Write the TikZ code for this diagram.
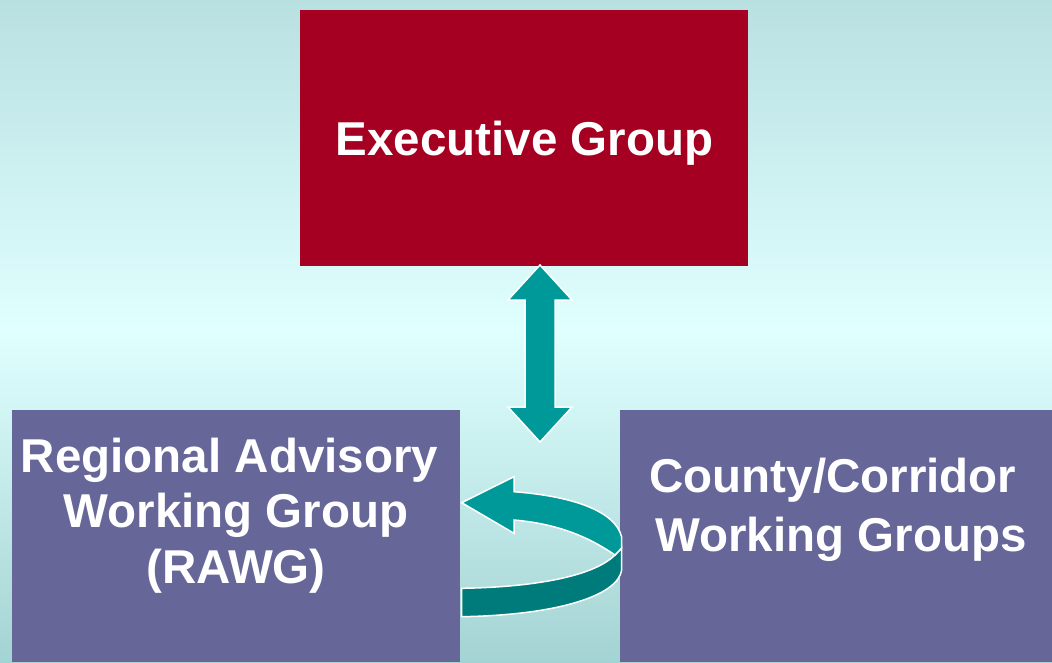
\documentclass[tikz,border=0pt]{standalone}
\usepackage{fontspec}
\setmainfont{Liberation Sans}
\definecolor{bgtop}{HTML}{B9E0E1}
\definecolor{bgmid}{HTML}{E0FFFF}
\definecolor{bgbot}{HTML}{A4D3D3}
\definecolor{execred}{HTML}{A50021}
\definecolor{boxpurple}{HTML}{666699}
\definecolor{teal1}{HTML}{009999}
\definecolor{teal2}{HTML}{007B7B}
\tikzset{
  box/.style={fill=#1, draw=none, inner sep=0pt, anchor=north west},
  lbl/.style={text=white, font=\fontsize{47.5}{57.5}\selectfont\bfseries, inner sep=0pt, anchor=base},
  blockarrow/.style={fill=#1, draw=white, line width=1.5pt, line join=miter}
}
\begin{document}
\begin{tikzpicture}[x=1pt, y=-1pt]
\useasboundingbox (0,0) rectangle (1052,662);
% background gradient
\shade[top color=bgtop, bottom color=bgmid] (0,0) rectangle (1052,330);
\shade[top color=bgmid, bottom color=bgbot] (0,330) rectangle (1052,662);
% boxes
\node[box=execred, minimum width=448pt, minimum height=256pt] (exec) at (300,10) {};
\node[box=boxpurple, minimum width=448pt, minimum height=252pt] (rawg) at (12,410) {};
\node[box=boxpurple, minimum width=432pt, minimum height=252pt] (county) at (620,410) {};
% labels
\node[lbl] (execlbl) at (524.5,155) {Executive Group};
\node[lbl] (rawgA) at (229.5,472) {Regional Advisory};
\node[lbl] (rawgB) at (236,527.5) {Working Group};
\node[lbl] (rawgC) at (236,583) {(RAWG)};
\node[lbl] (countyA) at (833,492) {County/Corridor};
\node[lbl] (countyB) at (841,551) {Working Groups};
% double block arrow between exec and the lower boxes
\coordinate (dtop) at (540,265);
\coordinate (dbot) at (540,442);
\draw[blockarrow=teal1] (dtop) -- ++(32,35) -- ++(-17,0) -- ++(0,107) -- ++(17,0)
  -- (dbot) -- ++(-32,-35) -- ++(17,0) -- ++(0,-107) -- ++(-17,0) -- cycle;
% curved ribbon arrow from county to rawg
\coordinate (ctip) at (461.7,502.7);
\draw[blockarrow=teal2] (461.7,588.3) .. controls (540,587) and (595,575) .. (615,555)
  -- (621.7,548) -- (621.7,570) .. controls (618,595) and (560,615) .. (461.7,616.7) -- cycle;
\draw[blockarrow=teal1] (514,491.7) .. controls (570,496) and (615,510) .. (621.7,537)
  -- (621.7,548) -- (615,555) .. controls (590,538) and (560,524) .. (514,520)
  -- (514,533.3) -- (ctip) -- (514,476.7) -- cycle;
\end{tikzpicture}
\end{document}
